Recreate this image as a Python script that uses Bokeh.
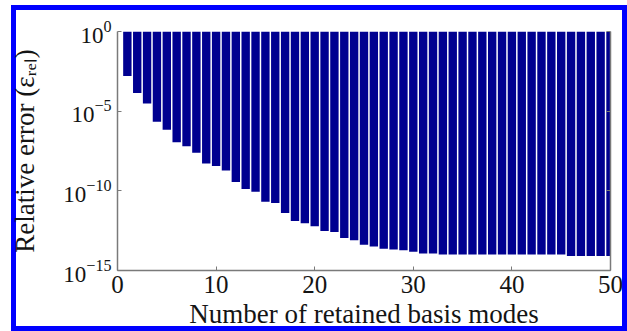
from bokeh.plotting import figure
from bokeh.models import Range1d, FixedTicker, LogAxis, LogTickFormatter, ColumnDataSource
from bokeh.embed import file_html
from bokeh.resources import INLINE

# Relative error after truncating the basis to the first n modes
modes = list(range(1, 51))
rel_error = [
    1.6e-3, 1.4e-4, 3.0e-5, 2.2e-6, 6.9e-7, 1.1e-7, 6.3e-8, 2.5e-8, 5.2e-9, 3.6e-9,
    1.9e-9, 3.6e-10, 1.3e-10, 8.7e-11, 2.1e-11, 1.7e-11, 4.1e-12, 1.3e-12, 9.3e-13, 6.0e-13,
    3.0e-13, 2.6e-13, 1.1e-13, 7.8e-14, 4.2e-14, 3.2e-14, 2.3e-14, 2.1e-14, 1.9e-14, 1.5e-14,
    1.15e-14, 1.15e-14, 1.0e-14, 1.0e-14, 1.0e-14, 1.0e-14, 1.0e-14, 1.0e-14, 1.0e-14, 1.0e-14,
    1.0e-14, 1.0e-14, 1.0e-14, 1.0e-14, 1.0e-14, 8.1e-15, 8.1e-15, 8.1e-15, 8.1e-15, 8.1e-15,
]
x_ticks = [0, 10, 20, 30, 40, 50]
y_ticks = [1.0, 1e-5, 1e-10, 1e-15]
x_title = "Number of retained basis modes"
y_title = "Relative error (\u03b5\u1d63\u2091\u2097)"

SERIF = "Liberation Serif"
TEXT = "#141414"
AXIS = "#7a7a7a"
BAR = "#000090"

p = figure(width=627, height=331, output_backend="svg", toolbar_location=None,
           x_range=Range1d(0, 50), y_range=Range1d(1e-15, 1.0), y_axis_type="log",
           min_border_left=117, min_border_right=17, min_border_top=31,
           min_border_bottom=59, background_fill_color="white",
           border_fill_color=None, outline_line_color=None)
p.grid.visible = False

# blue frame drawn around the page area of the figure
p.styles = {
    "box-shadow": "inset 11px 5px 0 0 #ffffff, inset 16px 10px 0 0 #0000ff, "
                  "inset -5px -5px 0 0 #0000ff",
    "background-color": "#ffffff",
}

src = ColumnDataSource(dict(mode=modes, err=rel_error))
p.vbar(x="mode", width=0.85, top=1.0, bottom="err", source=src,
       fill_color=BAR, line_color=None)

# bottom axis
xa = p.xaxis[0]
xa.ticker = FixedTicker(ticks=x_ticks)
xa.axis_line_color = AXIS
xa.axis_line_width = 1.5
xa.major_tick_line_color = AXIS
xa.major_tick_in = 4
xa.major_tick_out = 0
xa.minor_tick_line_color = None
xa.major_label_text_font = SERIF
xa.major_label_text_font_size = "25px"
xa.major_label_text_color = TEXT
xa.major_label_standoff = 5
xa.axis_label = x_title
xa.axis_label_text_font = SERIF
xa.axis_label_text_font_size = "27px"
xa.axis_label_text_font_style = "normal"
xa.axis_label_text_color = TEXT
xa.axis_label_standoff = 3

# left axis: powers of ten with raised exponents
ya = p.yaxis[0]
ya.ticker = FixedTicker(ticks=y_ticks)
ya.formatter = LogTickFormatter(min_exponent=0)
ya.axis_line_color = AXIS
ya.axis_line_width = 1.5
ya.major_tick_line_color = AXIS
ya.major_tick_in = 4
ya.major_tick_out = 0
ya.minor_tick_line_color = None
ya.major_label_text_font = SERIF
ya.major_label_text_font_size = "23px"
ya.major_label_text_color = TEXT
ya.major_label_standoff = 6
ya.axis_label = y_title
ya.axis_label_text_font = SERIF
ya.axis_label_text_font_size = "27px"
ya.axis_label_text_font_style = "normal"
ya.axis_label_text_color = TEXT
ya.axis_label_standoff = 20

# right axis line with inward ticks only
ra = LogAxis(ticker=FixedTicker(ticks=y_ticks),
             axis_line_color=AXIS, axis_line_width=1.5, major_tick_line_color=AXIS,
             major_tick_in=4, major_tick_out=0, minor_tick_line_color=None,
             major_label_text_font_size="1px", major_label_text_alpha=0,
             major_label_standoff=0)
p.add_layout(ra, "right")

open("out.html", "w").write(file_html(p, INLINE))
